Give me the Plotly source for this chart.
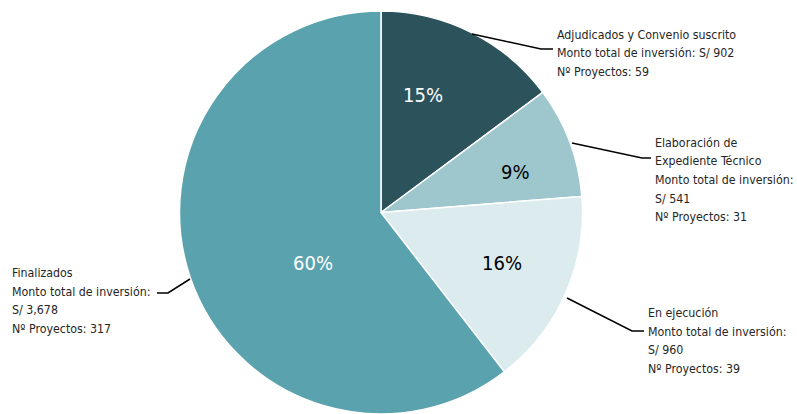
import plotly.graph_objects as go

categories = ["Adjudicados y Convenio suscrito", "Elaboración de Expediente Técnico",
              "En ejecución", "Finalizados"]
montos = [902, 541, 960, 3678]
proyectos = [59, 31, 39, 317]
label_lines = [
    ["Adjudicados y Convenio suscrito", "Monto total de inversión: S/ 902", "Nº Proyectos: 59"],
    ["Elaboración de", "Expediente Técnico", "Monto total de inversión:", "S/ 541", "Nº Proyectos: 31"],
    ["En ejecución", "Monto total de inversión:", "S/ 960", "Nº Proyectos: 39"],
    ["Finalizados", "Monto total de inversión:", "S/ 3,678", "Nº Proyectos: 317"],
]
colors = ["#2c535b", "#9dc6cd", "#dcebee", "#5aa3ae"]
pct_colors = ["white", "black", "black", "white"]

W, H = 797, 414
FONT = "DejaVu Sans Condensed, Liberation Sans, sans-serif"

def px(x, y):
    return x / W, 1 - y / H

fig = go.Figure(go.Pie(
    labels=categories, values=montos, sort=False, direction="clockwise", rotation=0,
    marker=dict(colors=colors, line=dict(color="white", width=1.5)),
    textinfo="none", hoverinfo="label+value+percent", showlegend=False,
    domain=dict(x=[178 / W, 584 / W], y=[0, 1 - 11 / H]),
))

total = sum(montos)
pct_pos = [(423, 95), (515, 172), (502, 263), (313, 263)]
annotations = []
for v, (x, y), c in zip(montos, pct_pos, pct_colors):
    X, Y = px(x, y)
    annotations.append(dict(x=X, y=Y, xref="paper", yref="paper", showarrow=False,
                            xanchor="center", yanchor="middle",
                            text=f"{round(v / total * 100)}%",
                            font=dict(family=FONT, size=20, color=c)))

# first-line center (x left, y) of each label block
label_pos = [(555, 34.5), (653, 142.5), (646, 313), (10, 273)]
LINE = 18.7
for lines, (x, y0) in zip(label_lines, label_pos):
    for i, t in enumerate(lines):
        X, Y = px(x, y0 + i * LINE)
        annotations.append(dict(x=X, y=Y, xref="paper", yref="paper", showarrow=False,
                                text=t, align="left", xanchor="left", yanchor="middle",
                                font=dict(family=FONT, size=12.3, color="#262626")))

leaders = [
    [(472, 34), (541, 49), (553, 49)],
    [(572, 143), (642, 158), (651, 158)],
    [(567, 298), (632, 331), (644, 331)],
    [(190, 279), (168, 293), (157, 293)],
]
shapes = []
for pts in leaders:
    path = "M " + " L ".join(f"{px(x, y)[0]},{px(x, y)[1]}" for x, y in pts)
    shapes.append(dict(type="path", xref="paper", yref="paper", path=path,
                       line=dict(color="black", width=1.5)))

fig.update_layout(width=W, height=H, margin=dict(l=0, r=0, t=0, b=0),
                  paper_bgcolor="white", plot_bgcolor="white",
                  annotations=annotations, shapes=shapes,
                  font=dict(family=FONT))
fig.write_html("out.html", config={"displayModeBar": False},
               post_script="document.body.style.margin='0';document.body.style.overflow='hidden';")
